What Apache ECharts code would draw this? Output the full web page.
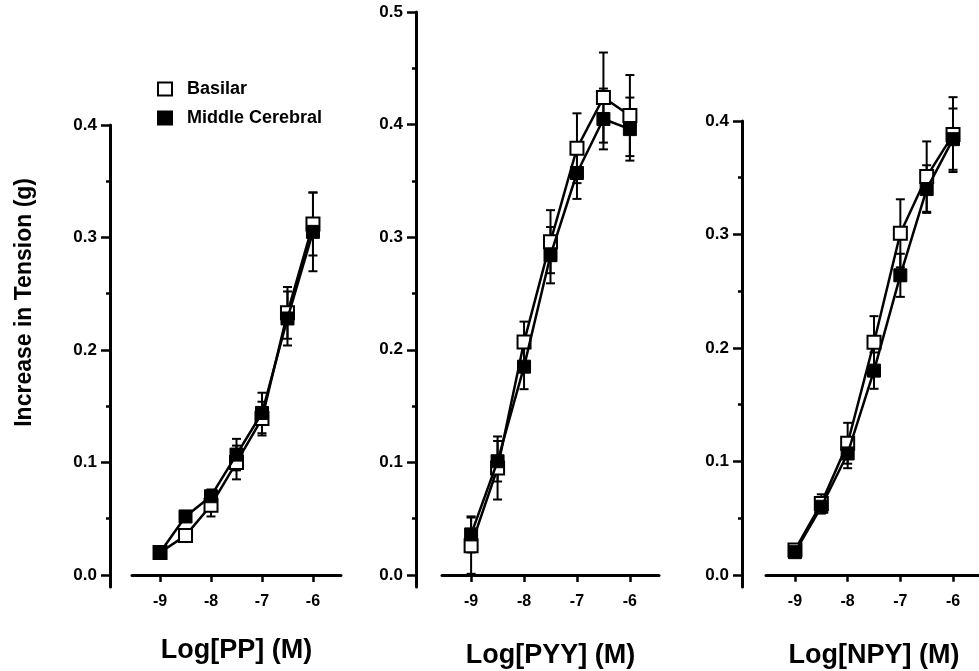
<!DOCTYPE html>
<html>
<head>
<meta charset="utf-8">
<script src="https://cdn.jsdelivr.net/npm/echarts@6/dist/echarts.min.js"></script>
<style>
html, body { margin: 0; padding: 0; background: #fff; }
#pageEcharts { width: 979px; height: 671px; }
</style>
</head>
<body>
<div id="pageEcharts"></div>
<script>
// log concentration (M)
var doses = [-9, -8.5, -8, -7.5, -7, -6.5, -6];

// PP panel
var ppBasilar = [0.020, 0.035, 0.062, 0.100, 0.139, 0.233, 0.312];
var ppMiddle = [0.020, 0.052, 0.070, 0.107, 0.144, 0.228, 0.305];
var ppBasilarErr = [0.004, 0.005, 0.010, 0.015, 0.015, 0.023, 0.028];
var ppMiddleErr = [0.004, 0.004, 0.006, 0.014, 0.018, 0.024, 0.035];

// PYY panel
var pyyBasilar = [0.026, 0.095, 0.207, 0.296, 0.379, 0.424, 0.408];
var pyyMiddle = [0.036, 0.101, 0.185, 0.284, 0.357, 0.405, 0.396];
var pyyBasilarErr = [0.025, 0.028, 0.018, 0.028, 0.031, 0.040, 0.036];
var pyyMiddleErr = [0.016, 0.018, 0.020, 0.025, 0.023, 0.027, 0.028];

// NPY panel
var npyBasilar = [0.022, 0.063, 0.116, 0.205, 0.301, 0.351, 0.388];
var npyMiddle = [0.020, 0.060, 0.107, 0.180, 0.264, 0.340, 0.384];
var npyBasilarErr = [0.004, 0.008, 0.018, 0.023, 0.030, 0.031, 0.033];
var npyMiddleErr = [0.004, 0.006, 0.013, 0.016, 0.019, 0.021, 0.027];

var xTicks = [-9, -8, -7, -6];
var yMajorPP = [0, 0.1, 0.2, 0.3, 0.4];
var yMinorPP = [0.05, 0.15, 0.25, 0.35];
var yMajorPYY = [0, 0.1, 0.2, 0.3, 0.4, 0.5];
var yMinorPYY = [0.05, 0.15, 0.25, 0.35, 0.45];
var yMajorNPY = [0, 0.1, 0.2, 0.3, 0.4];
var yMinorNPY = [0.05, 0.15, 0.25, 0.35];

var xNames = ['Log[PP] (M)', 'Log[PYY] (M)', 'Log[NPY] (M)'];

var font = "'Liberation Sans', Arial, Helvetica, sans-serif";

function pairs(ys) {
    return ys.map(function (v, i) { return [doses[i], v]; });
}
function errData(ys, es) {
    return ys.map(function (v, i) { return [doses[i], v, es[i]]; });
}

function renderErr(params, api) {
    var x = api.value(0), y = api.value(1), e = api.value(2);
    var hi = api.coord([x, y + e]);
    var lo = api.coord([x, y - e]);
    var cap = 4.5;
    var style = { stroke: '#000', lineWidth: 2 };
    return {
        type: 'group',
        children: [
            { type: 'line', shape: { x1: hi[0], y1: hi[1], x2: lo[0], y2: lo[1] }, style: style },
            { type: 'line', shape: { x1: hi[0] - cap, y1: hi[1], x2: hi[0] + cap, y2: hi[1] }, style: style },
            { type: 'line', shape: { x1: lo[0] - cap, y1: lo[1], x2: lo[0] + cap, y2: lo[1] }, style: style }
        ]
    };
}

function xAxisFor(i, gap) {
    return {
        type: 'value',
        gridIndex: i,
        min: -9.55,
        max: -5.45,
        name: xNames[i],
        nameLocation: 'middle',
        nameGap: gap,
        nameTextStyle: { color: '#000', fontSize: 27, fontWeight: 'bold', fontFamily: font },
        splitLine: { show: false },
        axisLine: { onZero: true, lineStyle: { color: '#000', width: 3 } },
        axisTick: { customValues: xTicks, length: 7, lineStyle: { color: '#000', width: 2.5 } },
        axisLabel: { customValues: xTicks, margin: 7, color: '#000', fontSize: 16, fontWeight: 'bold', fontFamily: font }
    };
}

function yAxesFor(i, max, offset, major, minor) {
    return [{
        type: 'value',
        gridIndex: i,
        position: 'left',
        min: -0.0107,
        max: max,
        offset: offset,
        splitLine: { show: false },
        axisLine: { show: true, onZero: false, lineStyle: { color: '#000', width: 3 } },
        axisTick: { customValues: major, length: 9, lineStyle: { color: '#000', width: 2.5 } },
        axisLabel: {
            customValues: major, margin: 13, color: '#000', fontSize: 17, fontWeight: 'bold', fontFamily: font,
            formatter: function (v) { return v.toFixed(1); }
        }
    }, {
        type: 'value',
        gridIndex: i,
        position: 'left',
        min: -0.0107,
        max: max,
        offset: offset,
        splitLine: { show: false },
        axisLine: { show: false, onZero: false },
        axisTick: { customValues: minor, length: 4, lineStyle: { color: '#000', width: 2.5 } },
        axisLabel: { show: false }
    }];
}

function panelSeries(i, basilar, middle, bErr, mErr) {
    var yIdx = i * 2;
    return [
        {
            name: 'errBasilar', type: 'custom', xAxisIndex: i, yAxisIndex: yIdx, z: 1,
            renderItem: renderErr, encode: { x: 0, y: 1 }, data: errData(basilar, bErr), silent: true
        },
        {
            name: 'errMiddle', type: 'custom', xAxisIndex: i, yAxisIndex: yIdx, z: 1,
            renderItem: renderErr, encode: { x: 0, y: 1 }, data: errData(middle, mErr), silent: true
        },
        {
            name: 'Basilar', type: 'line', xAxisIndex: i, yAxisIndex: yIdx, z: 2,
            symbol: 'rect', symbolSize: 13, showAllSymbol: true,
            itemStyle: { color: '#fff', borderColor: '#000', borderWidth: 2 },
            lineStyle: { color: '#000', width: 2.5 },
            data: pairs(basilar)
        },
        {
            name: 'Middle Cerebral', type: 'line', xAxisIndex: i, yAxisIndex: yIdx, z: 3,
            symbol: 'rect', symbolSize: 13, showAllSymbol: true,
            itemStyle: { color: '#000', borderColor: '#000', borderWidth: 1 },
            lineStyle: { color: '#000', width: 2.5 },
            data: pairs(middle)
        }
    ];
}

var myChart = echarts.init(document.getElementById('pageEcharts'), null, { renderer: 'canvas' });

var option = {
    backgroundColor: '#fff',
    animation: false,
    legend: {
        data: ['Basilar', 'Middle Cerebral'],
        orient: 'vertical',
        left: 152,
        top: 75,
        icon: 'rect',
        itemWidth: 14,
        itemHeight: 13,
        itemGap: 11,
        selectedMode: false,
        textStyle: { color: '#000', fontSize: 18, fontWeight: 'bold', fontFamily: font, padding: [0, 0, 0, 10] }
    },
    grid: [
        { left: 132, width: 209, top: 125, bottom: 84, outerBoundsMode: 'none', containLabel: false },
        { left: 442, width: 217, top: 12, bottom: 84, outerBoundsMode: 'none', containLabel: false },
        { left: 766, width: 216, top: 121, bottom: 84, outerBoundsMode: 'none', containLabel: false }
    ],
    xAxis: [xAxisFor(0, 50), xAxisFor(1, 55), xAxisFor(2, 55)],
    yAxis: [].concat(
        yAxesFor(0, 0.4, 22, yMajorPP, yMinorPP),
        yAxesFor(1, 0.5, 26, yMajorPYY, yMinorPYY),
        yAxesFor(2, 0.4, 24, yMajorNPY, yMinorNPY)
    ),
    graphic: [{
        type: 'text',
        left: 13,
        top: 178,
        rotation: Math.PI / 2,
        style: {
            text: 'Increase in Tension (g)',
            fill: '#000',
            font: 'bold 23px ' + font
        }
    }],
    series: [].concat(
        panelSeries(0, ppBasilar, ppMiddle, ppBasilarErr, ppMiddleErr),
        panelSeries(1, pyyBasilar, pyyMiddle, pyyBasilarErr, pyyMiddleErr),
        panelSeries(2, npyBasilar, npyMiddle, npyBasilarErr, npyMiddleErr)
    )
};
myChart.setOption(option);
</script>
</body>
</html>
